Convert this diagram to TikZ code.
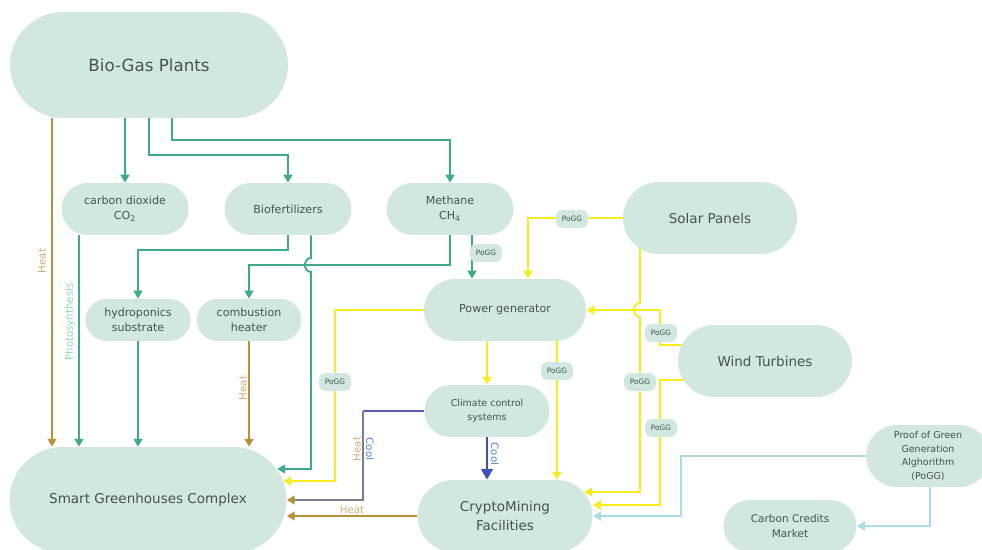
\documentclass[tikz,border=0pt]{standalone}
\usepackage{fontspec}
\setmainfont{DejaVu Sans}
\usetikzlibrary{arrows.meta, shapes.misc, calc, backgrounds}
\definecolor{mint}{HTML}{D2E7E0}
\definecolor{ink}{HTML}{465252}
\definecolor{flowteal}{HTML}{3DAA8C}
\definecolor{heatgold}{HTML}{B9903A}
\definecolor{heattext}{HTML}{CBAE74}
\definecolor{powery}{HTML}{F8EC1C}
\definecolor{coolblue}{HTML}{3F4FC0}
\definecolor{cooltext}{HTML}{4A86C8}
\definecolor{photo}{HTML}{93D3AE}
\definecolor{pogglink}{HTML}{AADDE2}
\definecolor{mixtop}{HTML}{5A5CB4}
\definecolor{mixline}{HTML}{7D7A94}

\begin{document}
\begin{tikzpicture}[
    x=0.02cm, y=-0.02cm,
    box/.style={rounded rectangle, fill=mint, text=ink, inner sep=0pt, align=center},
    boxbig/.style={box, font=\fontsize{9.5}{12}\selectfont},
    boxmid/.style={box, font=\fontsize{7.7}{11.3}\selectfont},
    boxsmall/.style={box, font=\fontsize{6.3}{8.8}\selectfont},
    boxtiny/.style={box, font=\fontsize{5.4}{7.6}\selectfont},
    tag/.style={rectangle, rounded corners=3pt, fill=mint, text=ink, minimum width=18pt, minimum height=10pt, inner sep=0pt, font=\fontsize{4.2}{5}\selectfont},
    lbl/.style={inner sep=0pt, font=\fontsize{5.8}{7}\selectfont},
    tip/.style={-{Triangle[width=5pt,length=4.5pt]}},
    feed/.style={tip, flowteal, line width=1.1pt},
    heat/.style={tip, heatgold, line width=1.1pt},
    mix/.style={-{Triangle[width=5pt,length=4.5pt,color=heatgold]}, mixline, line width=1.1pt},
    cool/.style={-{Triangle[width=6.5pt,length=6pt]}, coolblue, line width=1.6pt},
    power/.style={tip, powery, line width=1.1pt},
    proof/.style={tip, pogglink, line width=1.1pt},
]
\useasboundingbox (0,0) rectangle (982,550);

\node[boxbig, minimum width=5.56cm, minimum height=2.12cm] (bio) at (149,65) {Bio-Gas Plants};
\node[boxsmall, minimum width=2.54cm, minimum height=1.04cm] (co2) at (125,209) {carbon dioxide\\CO\textsubscript{2}};
\node[boxsmall, minimum width=2.54cm, minimum height=1.04cm] (fert) at (288,209) {Biofertilizers};
\node[boxsmall, minimum width=2.54cm, minimum height=1.04cm] (meth) at (450,209) {Methane\\CH\textsubscript{4}};
\node[boxmid, minimum width=3.48cm, minimum height=1.44cm] (solar) at (710,218) {Solar Panels};
\node[boxsmall, minimum width=3.24cm, minimum height=1.24cm] (power) at (505,310) {Power generator};
\node[boxmid, minimum width=3.48cm, minimum height=1.44cm] (wind) at (765,361) {Wind Turbines};
\node[boxsmall, minimum width=2.1cm, minimum height=0.84cm] (hydro) at (138,320) {hydroponics\\substrate};
\node[boxsmall, minimum width=2.1cm, minimum height=0.84cm] (heater) at (249,320) {combustion\\heater};
\node[boxtiny, minimum width=2.5cm, minimum height=1.04cm] (climate) at (487,411) {Climate control\\systems};
\node[boxmid, minimum width=5.54cm, minimum height=2.12cm] (green) at (148,500) {Smart Greenhouses Complex};
\node[boxmid, minimum width=3.5cm, minimum height=1.44cm] (crypto) at (505,516) {CryptoMining\\Facilities};
\node[boxtiny, minimum width=2.48cm, minimum height=1.24cm] (pogg) at (928,456) {Proof of Green\\Generation\\Alghorithm\\(PoGG)};
\node[boxsmall, font=\fontsize{6}{8.4}\selectfont, minimum width=2.66cm, minimum height=1.04cm] (market) at (790,526) {Carbon Credits\\Market};

\begin{scope}[on background layer]
\draw[feed] (bio.south -| co2.north) -- (co2.north);
\draw[feed] (bio.south) -- ++(0,37) -| (fert.north);
\draw[feed] (bio.south -| 172,0) -- ++(0,22) -| (meth.north);
\draw[feed] (co2.south -| 79,0) -- (green.north -| 79,0);
\draw[feed] (fert.south) -- ++(0,15) -| (hydro.north);
\draw[feed] (fert.south -| 311,0) -- (311,258) .. controls (303,258) and (303,272) .. (311,272) |- ([xshift=-5.5pt]green.east |- 0,469);
\draw[feed] (meth.south) -- ++(0,30) -| (heater.north);
\draw[feed] (meth.south -| 472,0) -- (power.north -| 472,0);
\draw[feed] (hydro.south) -- (hydro.south |- green.north);

\draw[heat] (bio.south -| 52,0) -- (green.north -| 52,0);
\draw[heat] (heater.south) -- (heater.south |- green.north);
\draw[heat] (crypto.west) -- (crypto.west -| green.east);
\coordinate (bend) at (climate.west -| 363,0);
\draw[mixtop, line width=1.1pt] (climate.west) -- (bend);
\draw[mix] (bend) |- (green.east);
\draw[cool] (climate.south) -- (climate.south |- crypto.north);

\draw[power] (solar.west) -| (power.north -| 528,0);
\draw[power] (solar -| 640,0) -- (640,303) .. controls (632,303) and (632,317) .. (640,317) |- ([xshift=-5pt]crypto.east |- 0,492);
\draw[power] (wind |- 0,345) -- (660,345) |- (power.east);
\draw[power] (wind |- 0,380) -- (660,380) |- (crypto.east |- 0,505);
\draw[power] (power.west) -- (power.west -| 335,0) |- ([xshift=-2pt]green.east |- 0,481);
\draw[power] (power.south -| climate.north) -- (climate.north);
\draw[power] (power.south -| 557,0) -- (crypto.north -| 557,0);

\draw[proof] (pogg.west) -- (pogg.west -| 681,0) |- (crypto.east);
\draw[proof] (pogg.south -| 930,0) |- (market.east);
\end{scope}

\node[tag] (t1) at (486,253) {PoGG};
\node[tag] (t2) at (572,219) {PoGG};
\node[tag] (t3) at (661,333) {PoGG};
\node[tag] (t4) at (640,382) {PoGG};
\node[tag] (t5) at (661,428) {PoGG};
\node[tag] (t6) at (335,382) {PoGG};
\node[tag] (t7) at (557,371) {PoGG};

\node[lbl, text=heattext, rotate=90] (h1) at (42,261) {Heat};
\node[lbl, text=photo, rotate=90] (ph) at (70,322) {Photosynthesis};
\node[lbl, text=heattext, rotate=90] (h2) at (243,388) {Heat};
\node[lbl, text=heattext] (h3) at (352,510) {Heat};
\node[lbl, text=heattext, rotate=90] (h4) at (357,449) {Heat};
\node[lbl, text=cooltext, rotate=-90] (c1) at (370,449) {Cool};
\node[lbl, text=cooltext, rotate=-90] (c2) at (495,454) {Cool};

\end{tikzpicture}
\end{document}
